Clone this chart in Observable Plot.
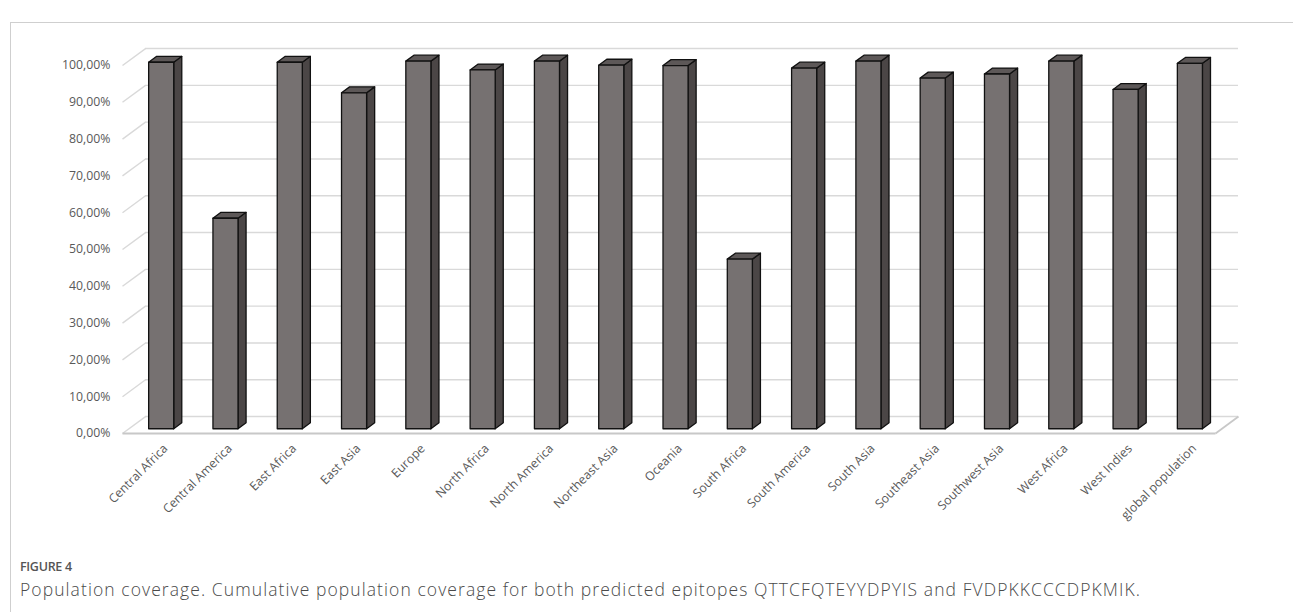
<!DOCTYPE html>
<html>
<head>
<meta charset="utf-8">
<script src="https://cdn.jsdelivr.net/npm/d3@7"></script>
<script src="https://cdn.jsdelivr.net/npm/@observablehq/plot@0.6"></script>
<style>
  html, body { margin: 0; padding: 0; background: #fff; }
  #wrap { position: relative; width: 1293px; height: 612px; overflow: hidden; }
  #frame { position: absolute; left: 10px; top: 22px; right: -2px; bottom: -2px;
           border-top: 1px solid #cfcfcf; border-left: 1px solid #cfcfcf; }
  #chart { position: absolute; left: 0; top: 0; }
  #fig { position: absolute; left: 20px; top: 558px; font-family: "Open Sans", sans-serif;
         font-size: 12.5px; font-weight: 600; color: #555; letter-spacing: -0.3px; }
  #cap { position: absolute; left: 20px; top: 577px; font-family: "Open Sans", sans-serif;
         font-size: 17.5px; font-weight: 300; color: #4a4a4a; white-space: nowrap; }
</style>
</head>
<body>
<div id="wrap">
  <div id="frame"></div>
  <div id="chart"></div>
  <div id="fig">FIGURE 4</div>
  <div id="cap">Population coverage. Cumulative population coverage for both predicted epitopes QTTCFQTEYYDPYIS and FVDPKKCCCDPKMIK.</div>
</div>
<script>
const categories = ["Central Africa", "Central America", "East Africa", "East Asia", "Europe",
  "North Africa", "North America", "Northeast Asia", "Oceania", "South Africa", "South America",
  "South Asia", "Southeast Asia", "Southwest Asia", "West Africa", "West Indies", "global population"];
const coverage = [99.6, 57.2, 99.6, 91.3, 99.9, 97.5, 99.9, 98.8, 98.7, 46.1, 98.0, 99.9, 95.3, 96.4, 99.9, 92.2, 99.3];
const yTicks = [0, 10, 20, 30, 40, 50, 60, 70, 80, 90, 100];

// 3D box geometry in data units
const N = categories.length;
const DX = 0.358;   // full depth, in category units
const DY = 4.6;     // full depth, in percent units
const FB = 0.25;    // depth of bar front face (fraction)
const BD = 0.35;    // bar depth (fraction)
const W = 0.39;     // bar width (category units)
const base = FB * DY;
const dxb = BD * DX, dyb = BD * DY;

const bars = categories.map((name, i) => {
  const xl = i + 0.5 - W / 2 + FB * DX + 0.02;
  return {name, v: coverage[i], xl, xr: xl + W, top: coverage[i] + base};
});
const side = bars.flatMap(b => [
  {name: b.name, x: b.xr, y1: base, y2: b.top},
  {name: b.name, x: b.xr + dxb, y1: base + dyb, y2: b.top + dyb}
]);
const topFace = bars.flatMap(b => [
  {name: b.name, y: b.top, x1: b.xl, x2: b.xr},
  {name: b.name, y: b.top + dyb, x1: b.xl + dxb, x2: b.xr + dxb}
]);

const grid = "#d9d9d9";
const chart = Plot.plot({
  width: 1293,
  height: 540,
  marginLeft: 122,
  marginRight: 78,
  marginTop: 65,
  marginBottom: 107,
  x: {domain: [0, N]},
  y: {domain: [0, 100]},
  style: {fontFamily: "'Open Sans', sans-serif", fontSize: "12.3px", color: "#595959", background: "transparent"},
  marks: [
    Plot.ruleY(yTicks, {y: d => d + DY, x1: DX, x2: N + DX, stroke: grid, strokeWidth: 1.4}),
    Plot.link(yTicks, {x1: 0, y1: d => d, x2: DX, y2: d => d + DY, stroke: grid, strokeWidth: 1.4}),
    Plot.link([0], {x1: 0, y1: 0, x2: N, y2: 0, stroke: "#c8c8c8", strokeWidth: 1.8}),
    Plot.link([0], {x1: N, y1: 0, x2: N + DX, y2: DY, stroke: "#c8c8c8", strokeWidth: 1.8}),
    Plot.areaY(side, {x: "x", y1: "y1", y2: "y2", z: "name", fill: "#4b4646", stroke: "#111", strokeWidth: 1.3, strokeLinejoin: "round"}),
    Plot.areaX(topFace, {y: "y", x1: "x1", x2: "x2", z: "name", fill: "#5d5858", stroke: "#111", strokeWidth: 1.3, strokeLinejoin: "round"}),
    Plot.rect(bars, {x1: "xl", x2: "xr", y1: base, y2: "top", fill: "#767171", stroke: "#111", strokeWidth: 1.3, strokeLinejoin: "round"}),
    Plot.axisY(yTicks, {tickSize: 0, tickPadding: 12, label: null,
      tickFormat: d => d.toFixed(2).replace(".", ",") + "%"}),
    Plot.axisX(categories.map((c, i) => i + 0.5), {tickSize: 0, tickPadding: 13, tickRotate: -45, label: null,
      dx: 11, tickFormat: d => categories[Math.floor(d)]})
  ]
});
document.getElementById("chart").appendChild(chart);

// fit the caption line to the reference's width
const cap = document.getElementById("cap");
const w = cap.getBoundingClientRect().width;
cap.style.letterSpacing = ((1121 - w) / cap.textContent.length) + "px";
</script>
</body>
</html>
